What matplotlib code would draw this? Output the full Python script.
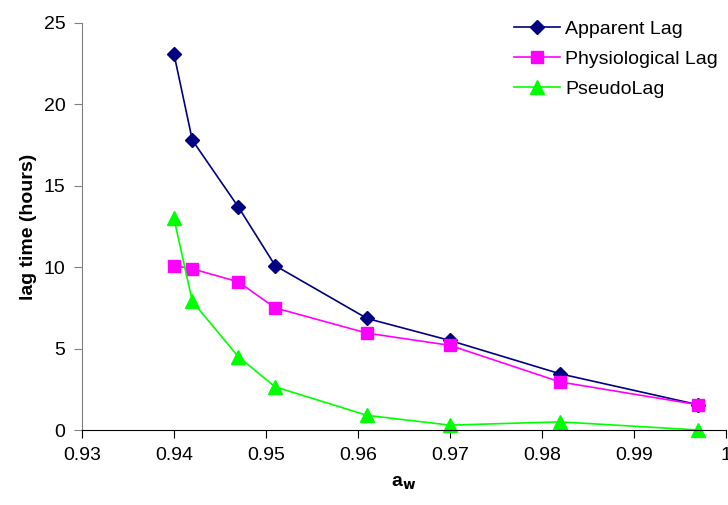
import matplotlib.pyplot as plt

plt.rcParams['font.family'] = ['Liberation Sans', 'DejaVu Sans']

# water activity and lag times (hours)
aw = [0.940, 0.942, 0.947, 0.951, 0.961, 0.970, 0.982, 0.997]
apparent_lag = [23.1, 17.8, 13.7, 10.1, 6.85, 5.5, 3.45, 1.55]
physio_lag = [10.1, 9.9, 9.1, 7.5, 5.95, 5.2, 2.95, 1.55]
pseudo_lag = [13.0, 7.9, 4.5, 2.65, 0.9, 0.3, 0.5, 0.0]

xticks = [0.93, 0.94, 0.95, 0.96, 0.97, 0.98, 0.99, 1.0]
xticklabels = ['0.93', '0.94', '0.95', '0.96', '0.97', '0.98', '0.99', '1']
yticks = [0, 5, 10, 15, 20, 25]

fig = plt.figure(figsize=(7.28, 5.05), dpi=100)
ax = fig.add_axes([0.1126, 0.1485, 0.8844, 0.806])

ax.plot(aw, apparent_lag, color='#000080', marker='D', markersize=7, lw=1.2,
        label='Apparent Lag')
ax.plot(aw, physio_lag, color='#FF00FF', marker='s', markersize=9, lw=1.2,
        label='Physiological Lag')
ax.plot(aw, pseudo_lag, color='#00FF00', marker='^', markersize=10, lw=1.2,
        label='PseudoLag', clip_on=False)

ax.set_xlim(0.93, 1.0)
ax.set_ylim(0, 25)
ax.set_xticks(xticks)
ax.set_xticklabels(xticklabels)
ax.set_yticks(yticks)

for s in ['top', 'right']:
    ax.spines[s].set_visible(False)
ax.spines['left'].set_color('#808080')
ax.spines['bottom'].set_color('black')
ax.tick_params(axis='both', direction='out', length=6, labelsize=14, pad=6)
ax.tick_params(axis='y', colors='#808080', labelcolor='black')

ax.set_xlabel('a$_\\mathbf{w}$', fontsize=14, fontweight='bold', labelpad=8)
ax.set_ylabel('lag time (hours)', fontsize=14, fontweight='bold', labelpad=5)

ax.legend(loc='upper right', bbox_to_anchor=(1.015, 1.05), frameon=False,
          fontsize=14, handlelength=2.4, handletextpad=0.25, labelspacing=0.65)

fig.savefig('out.png', dpi=100)
